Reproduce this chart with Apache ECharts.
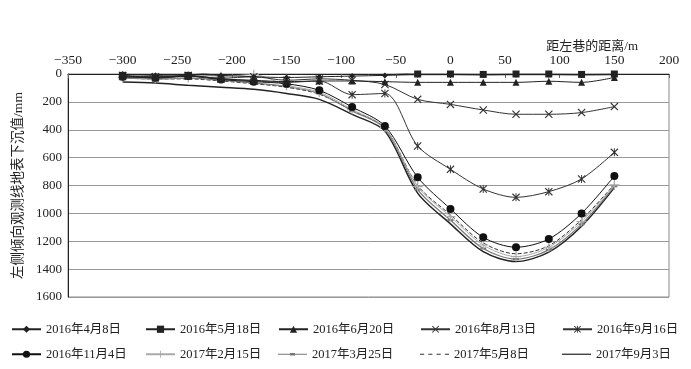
<!DOCTYPE html>
<html><head><meta charset="utf-8">
<script src="https://cdn.jsdelivr.net/npm/echarts@6/dist/echarts.min.js"></script>
<style>html,body{margin:0;padding:0;background:#fff}#c{width:691px;height:369px}</style>
</head><body><div id="c"></div>
<script>
var xDist = [-300,-270,-240,-210,-180,-150,-120,-90,-60,-30,0,30,60,90,120,150];
var seriesNames = ['2016年4月8日','2016年5月18日','2016年6月20日','2016年8月13日','2016年9月16日','2016年11月4日','2017年2月15日','2017年3月25日','2017年5月8日','2017年9月3日'];
var s0408 = [0,10,5,10,20,25,20,15,10,5,5,7,5,5,7,5];
var s0518 = [10,30,10,-15,-14,-20,-20,-25,-15,0,0,3,0,0,3,0];
var s0620 = [20,25,15,35,45,55,50,50,55,60,60,60,60,52,60,25];
var s0813 = [10,20,15,30,20,45,35,45,75,182,218,258,289,289,277,234];
var s0916 = [15,20,10,35,50,60,50,148,140,517,684,825,885,844,753,562];
var s1104 = [20,25,15,40,55,70,117,237,373,741,968,1172,1243,1184,1000,732];
var s0215 = [25,30,25,20,5,80,130,255,385,808,1023,1227,1310,1243,1059,796];
var s0325 = [30,35,30,45,65,90,140,265,392,830,1048,1252,1328,1262,1077,806];
var s0508 = [30,35,35,50,70,95,145,262,388,800,1010,1212,1290,1232,1045,792];
var s0903 = [57,65,81,95,110,140,182,290,410,855,1075,1275,1346,1278,1092,815];
var xTicks = {min:-350, max:200, interval:50};
var yTicks = {min:0, max:1600, interval:200};

var FONT = "'Liberation Serif','Noto Sans CJK SC',serif";
var X_PATH = 'path://M0,1L1,0L5,4L9,0L10,1L6,5L10,9L9,10L5,6L1,10L0,9L4,5Z';
var AST_PATH = 'path://M0,1L1,0L5,4L9,0L10,1L6,5L10,9L9,10L5,6L1,10L0,9L4,5Z M4.4,0L5.6,0L5.6,10L4.4,10Z';
var PLUS_PATH = 'path://M4.4,0H5.6V4.4H10V5.6H5.6V10H4.4V5.6H0V4.4H4.4Z';
var DASH_PATH = 'path://M0,0H10V3H0Z';
var LEG_SOLID = 'path://M0,4.4H29V5.6H0Z';
var LEG_DASH = 'path://M0,4.4H4V5.6H0Z M8,4.4H12V5.6H8Z M16,4.4H20V5.6H16Z M24,4.4H28V5.6H24Z';
var LEG_DASHMARK = 'path://M0,4.5H29V5.5H0Z M12,3.8H17V6.2H12Z';

function pairs(arr){ return xDist.map(function(x,i){return [x, arr[i]];}); }

var styles = [
  {data:s0408, symbol:'diamond', size:6, color:'#222', lt:'solid', w:1},
  {data:s0518, symbol:'rect', size:7, color:'#222', lt:'solid', w:1},
  {data:s0620, symbol:'triangle', size:7, color:'#222', lt:'solid', w:1},
  {data:s0813, symbol:X_PATH, size:8, color:'#333', lt:'solid', w:1},
  {data:s0916, symbol:AST_PATH, size:8, color:'#333', lt:'solid', w:1},
  {data:s1104, symbol:'circle', size:8, color:'#111', lt:'solid', w:1},
  {data:s0215, symbol:PLUS_PATH, size:10, color:'#aaa', lt:'solid', w:1},
  {data:s0325, symbol:DASH_PATH, size:[6,2], color:'#777', lt:'solid', w:1.2, icon:LEG_DASHMARK},
  {data:s0508, symbol:'none', size:0, color:'#333', lt:'dashed', w:1, icon:LEG_DASH},
  {data:s0903, symbol:'none', size:0, color:'#222', lt:'solid', w:1.5, icon:LEG_SOLID}
];

var series = styles.map(function(st, i){
  return {
    name: seriesNames[i], type:'line', data: pairs(st.data), smooth: 0.3,
    symbol: st.symbol, symbolSize: st.size, showSymbol: st.symbol !== 'none',
    lineStyle:{color: st.color, width: st.w, type: st.lt},
    itemStyle:{color: st.color, borderWidth:0},
    z: 10 - i, animation:false
  };
});

var legendLeft = [11,145,278,420,562];
var legendTop = [323,348];
var legends = seriesNames.map(function(n, i){
  var item = {name:n};
  if (styles[i].icon) item.icon = styles[i].icon;
  return {
    data:[item], left: legendLeft[i % 5], top: legendTop[Math.floor(i/5)], padding:0,
    itemWidth: 29, itemHeight: 9, itemGap: 4,
    textStyle:{fontFamily: FONT, fontSize: 12.5, color:'#222'}
  };
});

var chart = echarts.init(document.getElementById('c'));
chart.setOption({
  backgroundColor:'#fff',
  animation:false,
  title:{text:'距左巷的距离/m', right: 48, top: 35, textStyle:{fontFamily: FONT, fontSize:13, fontWeight:'normal', color:'#222'}},
  legend: legends,
  grid:{left:68, right:22, top:74, bottom:72, show:true, borderColor:'#888', borderWidth:1},
  xAxis:{
    type:'value', position:'top', min:xTicks.min, max:xTicks.max, interval:xTicks.interval,
    axisLine:{show:true, onZero:false, lineStyle:{color:'#222'}},
    axisTick:{show:true, inside:true, length:4, lineStyle:{color:'#666'}},
    splitLine:{show:false},
    axisLabel:{margin:7, fontFamily: FONT, fontSize:13.5, color:'#222',
      formatter:function(v){ return v < 0 ? '\u2212' + Math.abs(v) : String(v); }}
  },
  yAxis:{
    type:'value', inverse:true, min:yTicks.min, max:yTicks.max, interval:yTicks.interval,
    name:'左侧倾向观测线地表下沉值/mm', nameLocation:'middle', nameGap:32, nameRotate:90,
    nameTextStyle:{fontFamily: FONT, fontSize:13.5, color:'#222'},
    axisLine:{show:true, onZero:false, lineStyle:{color:'#222'}},
    axisTick:{show:false},
    splitLine:{show:true, lineStyle:{color:'#999', width:1}},
    axisLabel:{margin:6, fontFamily: FONT, fontSize:13, color:'#222',
      formatter:function(v){ return String(v); }}
  },
  series: series
});
</script></body></html>
